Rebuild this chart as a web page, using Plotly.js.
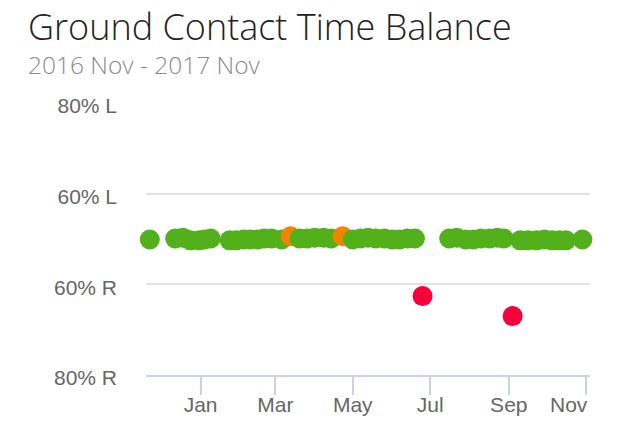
<!DOCTYPE html>
<html>
<head>
<meta charset="utf-8">
<script src="https://cdn.plot.ly/plotly-3.0.1.min.js"></script>
<style>html,body{margin:0;padding:0;background:#fff;}#chart{width:640px;height:444px;}</style>
</head>
<body>
<div id="chart"></div>
<script>
// Left-foot share (%) per run; values below 50 lean to the right foot
const dates = [
  '2016-11-22','2016-12-12','2016-12-18','2016-12-24','2016-12-31','2017-01-04','2017-01-09',
  '2017-01-24','2017-01-29','2017-02-04','2017-02-09','2017-02-15','2017-02-20','2017-02-26',
  '2017-03-06','2017-03-13','2017-03-20','2017-03-26','2017-04-01','2017-04-08','2017-04-14',
  '2017-04-23','2017-05-01','2017-05-07','2017-05-13','2017-05-19','2017-05-26','2017-06-01',
  '2017-06-07','2017-06-13','2017-06-19','2017-06-25','2017-07-16','2017-07-22','2017-07-29',
  '2017-08-04','2017-08-10','2017-08-17','2017-08-23','2017-08-28','2017-09-04','2017-09-10',
  '2017-09-16','2017-09-23','2017-09-29','2017-10-05','2017-10-11','2017-10-16','2017-10-29'
];
const leftPct = [
  49.9, 50.1, 50.3, 49.7, 49.7, 49.9, 50.1,
  49.7, 49.7, 49.9, 49.9, 49.9, 50.1, 50.1,
  49.9, 50.6, 50.1, 50.1, 50.3, 50.3, 50.1,
  50.6, 49.9, 50.1, 50.3, 50.1, 50.1, 49.9,
  49.9, 50.1, 50.1, 37.4, 50.1, 50.3, 49.9,
  49.9, 50.1, 50.1, 50.3, 50.1, 33.0, 49.7,
  49.7, 49.7, 49.9, 49.7, 49.7, 49.7, 49.9
];
const status = [
  'ok','ok','ok','ok','ok','ok','ok',
  'ok','ok','ok','ok','ok','ok','ok',
  'ok','warn','ok','ok','ok','ok','ok',
  'warn','ok','ok','ok','ok','ok','ok',
  'ok','ok','ok','bad','ok','ok','ok',
  'ok','ok','ok','ok','ok','bad','ok',
  'ok','ok','ok','ok','ok','ok','ok'
];
const yTickVals = [20, 40, 60, 80];
const yTickText = ['80% R', '60% R', '60% L', '80% L'];
const xTickVals = ['2017-01-01','2017-03-01','2017-05-01','2017-07-01','2017-09-01','2017-11-01'];
const xTickText = ['Jan', 'Mar', 'May', 'Jul', 'Sep', 'Nov\u00a0\u00a0\u00a0\u00a0\u00a0\u00a0'];

const statusColor = {ok: '#52b01a', warn: '#f08300', bad: '#f5003a'};

const trace = {
  type: 'scatter',
  mode: 'markers',
  x: dates,
  y: leftPct,
  cliponaxis: false,
  hoverinfo: 'skip',
  marker: {size: 20, color: status.map(s => statusColor[s]), line: {width: 0}}
};

const layout = {
  width: 640, height: 444,
  margin: {l: 146, r: 50, t: 103, b: 69},
  paper_bgcolor: '#ffffff', plot_bgcolor: '#ffffff',
  showlegend: false,
  font: {family: '"Liberation Sans", Arial, sans-serif', color: '#666666', size: 21},
  xaxis: {
    type: 'date',
    range: ['2016-11-19', '2017-11-04'],
    tickvals: xTickVals, ticktext: xTickText,
    ticks: 'outside', ticklen: 18, tickwidth: 2, tickcolor: '#c8d2e8',
    showline: true, linecolor: '#c8d2e8', linewidth: 2,
    showgrid: false, zeroline: false,
    ticklabelstandoff: -8,
    tickfont: {size: 21, color: '#666666'}
  },
  yaxis: {
    range: [20, 80],
    tickvals: yTickVals, ticktext: yTickText,
    showgrid: true, gridcolor: '#e2e2e2', gridwidth: 2,
    zeroline: false, showline: false, ticks: '',
    ticklabelstandoff: 28,
    ticklabelshift: 3,
    tickfont: {size: 21, color: '#666666'}
  },
  annotations: [
    {text: 'Ground Contact Time Balance', xref: 'paper', yref: 'paper',
     x: -0.27, y: 1.28, xanchor: 'left', yanchor: 'middle', showarrow: false,
     font: {family: '"Open Sans", sans-serif', size: 36, color: '#222222', weight: 300}},
    {text: '2016 Nov - 2017 Nov', xref: 'paper', yref: 'paper',
     x: -0.27, y: 1.14, xanchor: 'left', yanchor: 'middle', showarrow: false,
     font: {family: '"Open Sans", sans-serif', size: 24.5, color: '#8a8a8a', weight: 300}}
  ]
};

Plotly.newPlot('chart', [trace], layout, {displayModeBar: false, staticPlot: true});
</script>
</body>
</html>
